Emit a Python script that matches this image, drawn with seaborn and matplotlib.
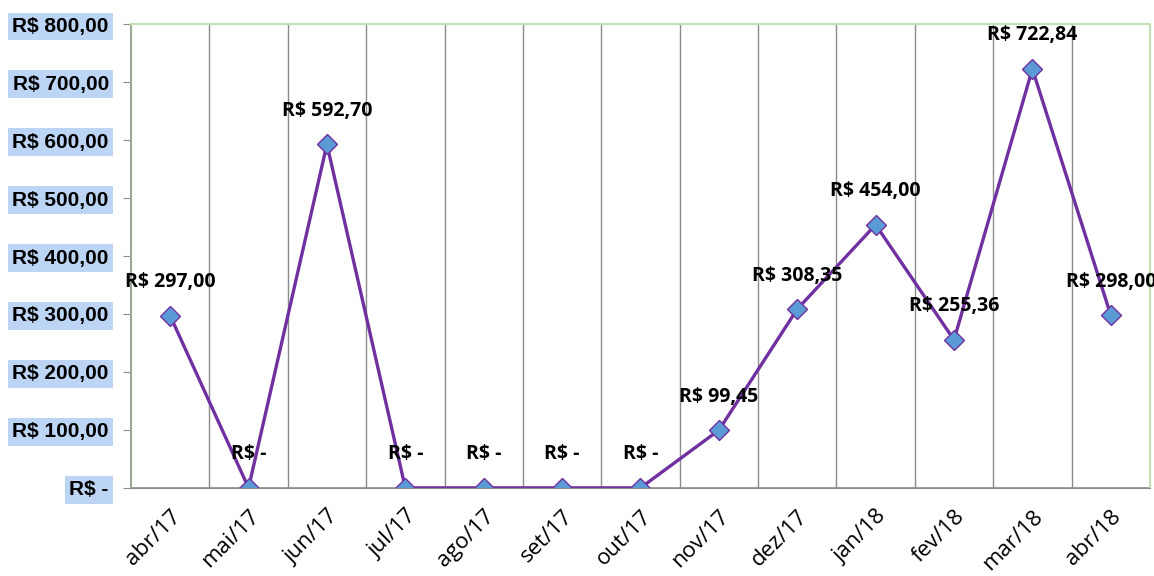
import numpy as np
import pandas as pd
import matplotlib
matplotlib.use("Agg")
import matplotlib.pyplot as plt
import seaborn as sns

# Dados
meses = ["abr/17", "mai/17", "jun/17", "jul/17", "ago/17", "set/17", "out/17",
         "nov/17", "dez/17", "jan/18", "fev/18", "mar/18", "abr/18"]
valores = [297.00, 0, 592.70, 0, 0, 0, 0, 99.45, 308.35, 454.00, 255.36, 722.84, 298.00]
rotulos = ["R$ 297,00", "R$ -", "R$ 592,70", "R$ -", "R$ -", "R$ -", "R$ -",
           "R$ 99,45", "R$ 308,35", "R$ 454,00", "R$ 255,36", "R$ 722,84", "R$ 298,00"]
yticks = [0, 100, 200, 300, 400, 500, 600, 700, 800]
ylabels = ["R$ -", "R$ 100,00", "R$ 200,00", "R$ 300,00", "R$ 400,00",
           "R$ 500,00", "R$ 600,00", "R$ 700,00", "R$ 800,00"]

df = pd.DataFrame({"mes": meses, "valor": valores})

sns.set_style("white")
plt.rcParams['font.family'] = ['Liberation Sans', 'DejaVu Sans']

fig, ax = plt.subplots(figsize=(11.54, 5.76), dpi=100)
fig.subplots_adjust(left=0.1135, right=0.9965, top=0.958, bottom=0.153)

sns.lineplot(data=df, x="mes", y="valor", ax=ax, color="#7030a0", linewidth=2.4,
             marker="D", markersize=10, markerfacecolor="#5b9bd5",
             markeredgecolor="#7030a0", markeredgewidth=1.0, sort=False)

n = len(meses)
ax.set_xlim(-0.5, n - 0.5)
ax.set_ylim(0, 800)

# linhas verticais entre categorias
for b in np.arange(0.5, n - 0.5, 1):
    ax.axvline(b, color="#8c8c8c", linewidth=1.0, zorder=0)
ax.axhline(0, color="#8c8c8c", linewidth=1.2, zorder=1)

ax.set_xticks(range(n))
ax.set_xticklabels(meses, rotation=45, ha="right", rotation_mode="anchor",
                   fontsize=16, color="black", family=["Open Sans", "DejaVu Sans"])
ax.set_xticks(np.arange(-0.5, n, 1), minor=True)
ax.tick_params(axis="x", which="major", length=0, pad=13)
ax.tick_params(axis="x", which="minor", length=6, color="#8c8c8c", direction="out")

ax.set_yticks(yticks)
ax.set_yticklabels(ylabels, fontsize=15, fontweight="bold", color="black")
ax.tick_params(axis="y", length=6, color="#8c8c8c", direction="out", pad=10, left=True)
for t in ax.get_yticklabels():
    t.set_bbox(dict(facecolor="#bcd5f5", edgecolor="none", pad=3))

ax.set_xlabel("")
ax.set_ylabel("")

for s in ["top", "right"]:
    ax.spines[s].set_color("#c3e0b4")
    ax.spines[s].set_linewidth(1.5)
ax.spines["left"].set_color("#9aab93")
ax.spines["left"].set_linewidth(1.5)
ax.spines["bottom"].set_color("#8c8c8c")

# rótulos de dados
for i, (v, r) in enumerate(zip(valores, rotulos)):
    ax.annotate(r, (i, v), xytext=(0, 17), textcoords="offset points",
                ha="center", va="bottom", fontsize=14, fontweight="bold",
                color="black", family=["Open Sans", "DejaVu Sans"])

plt.savefig("out.png", dpi=100)
